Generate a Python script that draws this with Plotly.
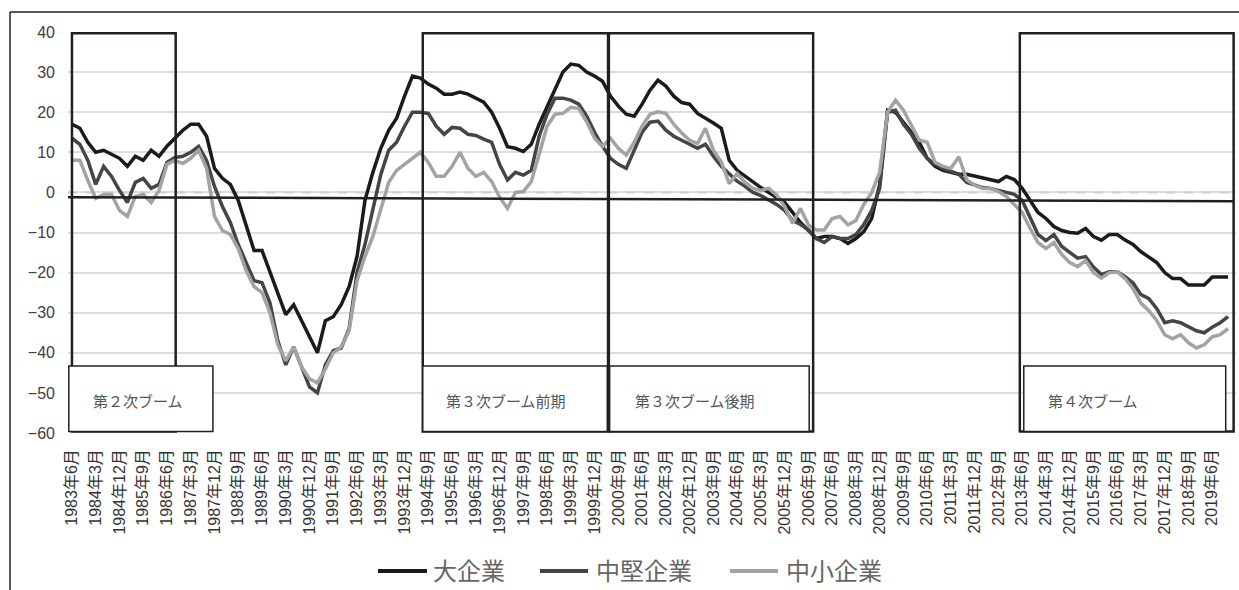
import plotly.graph_objects as go

# quarterly categories 1983年6月 .. 2019年12月
months = [3, 6, 9, 12]
quarters = []
y, q = 1983, 1
while (y, q) <= (2019, 3):
    quarters.append(f"{y}年{months[q]}月")
    q += 1
    if q == 4:
        q = 0
        y += 1

large = [17, 16, 12.5, 10, 10.5, 9.5, 8.5, 6.5, 9, 8,
         10.5, 9, 11.5, 13.5, 15.5, 17, 17, 14, 6, 3.5,
         2, -2, -8, -14.5, -14.5, -20, -25.5, -30.5, -28, -32,
         -36, -40, -32, -31, -28, -23.5, -16, -2, 5, 11,
         15.5, 18.5, 24, 29, 28.5, 27, 26, 24.5, 24.5, 25,
         24.5, 23.5, 22.5, 20, 16, 11.4, 11, 10.2, 12, 17,
         21.5, 25.5, 30, 32, 31.7, 30, 29, 27.7, 24, 21.5,
         19.5, 19, 22, 25.5, 28, 26.5, 24, 22.4, 22, 19.7,
         18.6, 17.3, 16, 8, 5.5, 4, 2.5, 1.2, 0, -1.2,
         -2.5, -5, -7.5, -9.5, -11.5, -11, -11, -11.5, -12.7, -11.5,
         -9.8, -6.5, 2, 20.5, 20, 17.5, 15, 12.5, 8.5, 6.5,
         5.5, 5, 4.5, 4.5, 4, 3.5, 3, 2.7, 4, 3.2,
         1, -2, -5, -6.5, -8.5, -9.5, -10, -10.2, -9, -11,
         -11.9, -10.5, -10.5, -11.9, -13, -14.8, -16.1, -17.5, -20, -21.5,
         -21.5, -23.1, -23.1, -23.1, -21.1, -21.1, -21.1]

medium = [13.5, 12, 8, 2, 6.5, 4, 0.5, -2.5, 2.5, 3.5,
          1, 2, 7.5, 8.7, 9, 10, 11.5, 8, 1.5, -3.5,
          -7.5, -13, -17.5, -22, -22.5, -27.5, -37, -43, -38.5, -43.5,
          -48.5, -50, -43, -39.5, -38.8, -34, -20, -13, -4, 4.5,
          10.5, 12.5, 16.5, 20, 20, 19.7, 16.5, 14.5, 16.2, 16,
          14.5, 14.2, 13.3, 12.5, 7, 3.1, 5, 4.3, 5.5, 14,
          19.5, 23.5, 23.5, 23, 22, 19, 15, 11.5, 8.5, 7,
          6, 10.5, 15, 17.5, 17.8, 15.5, 14, 13, 12, 11,
          12, 9, 6.5, 4.5, 2.8, 1.5, 0, -0.8, -1.8, -3,
          -4.5, -7, -8, -9.3, -11.5, -12.5, -11, -11.5, -11.5, -10.5,
          -8, -4.5, 1, 20, 20.5, 17, 14.5, 11, 8.5, 7,
          6, 5.2, 4.5, 2.5, 1.8, 1.2, 1, 0.5, 0, -0.5,
          -2, -6.5, -10.5, -12, -10.5, -13.5, -15, -16.4, -16, -18.6,
          -20.5, -19.8, -19.8, -21, -22.6, -25.5, -26.5, -29, -32.5, -32,
          -32.5, -33.6, -34.5, -35, -33.6, -32.5, -31]

small = [8, 8, 3, -1.5, -0.5, -0.5, -4.5, -6, -1, -0.5,
         -2.5, 0.5, 7, 8, 7.2, 8.5, 10.5, 6, -6, -9.5,
         -10.5, -14, -19.5, -23.5, -25, -30, -38, -42, -38.5, -43.5,
         -46.5, -47.5, -44, -40, -38.5, -34.5, -22, -16, -11, -4,
         2.5, 5.5, 7, 8.5, 10, 7.5, 4, 4, 6.5, 10,
         6, 4, 5, 2.7, -1.2, -4, 0, 0.2, 2.7, 9.5,
         16.5, 19.5, 19.7, 21.2, 20.9, 17.6, 13.5, 11.4, 13.5, 11,
         9.3, 12.5, 16.5, 19.5, 20.1, 19.7, 17, 14.8, 13, 12.2,
         16, 10.5, 7.6, 2.2, 4.7, 2.5, 1, 0.5, 1, -0.7,
         -3.5, -7.7, -4, -8.1, -9.4, -9.4, -6.5, -6, -8.1, -7,
         -3, 0, 5, 20, 23, 20.5, 16.8, 13, 12.5, 7.5,
         6.5, 6, 8.9, 3.1, 1.8, 1, 1, 0.2, -1, -3,
         -5, -9, -12.5, -14, -12.5, -15.5, -17.5, -18.5, -17, -20,
         -21.4, -20, -19.8, -21.5, -24, -27.6, -29.5, -32, -35.5, -36.5,
         -35.5, -37.5, -38.8, -38, -36, -35.5, -34]

series_names = ["大企業", "中堅企業", "中小企業"]
series_colors = ["#1e1a1b", "#454545", "#a3a3a3"]

tick_labels = quarters[::3]
y_ticks = [40, 30, 20, 10, 0, -10, -20, -30, -40, -50, -60]

# boom periods: (label, box x0, box x1, label box x0, label box x1, text x)
booms = [
    ("第２次ブーム", 0.0, 13.1, -0.4, 17.8, 8.4),
    ("第３次ブーム前期", 44.3, 67.7, 44.3, 67.6, 54.8),
    ("第３次ブーム後期", 67.8, 93.6, 67.9, 93.1, 78.7),
    ("第４次ブーム", 119.7, 146.7, 120.2, 145.7, 128.9),
]

# page geometry (pixels)
W, H = 1239, 590
ML, MR, MT, MB = 68, 3, 32, 157
PW, PH = W - ML - MR, H - MT - MB


def px(xp):
    return (xp - ML) / PW


def py(yp):
    return (H - MB - yp) / PH


fig = go.Figure()
for name, vals, col in zip(series_names, [large, medium, small], series_colors):
    fig.add_trace(go.Scatter(x=quarters, y=vals, mode="lines", name=name,
                             line=dict(color=col, width=3.5), showlegend=False))

LINE = "#231f20"
shapes = []
shapes.append(dict(type="line", xref="x", yref="y", x0=-0.5, x1=147, y0=0, y1=0,
                   line=dict(color="#cfcfcf", width=2, dash="dash"), layer="between"))
shapes.append(dict(type="line", xref="x", yref="y", x0=-0.5, x1=146.75, y0=-1.2, y1=-2.2,
                   line=dict(color=LINE, width=2.5), layer="above"))
for lab, bx0, bx1, lx0, lx1, tx in booms:
    shapes.append(dict(type="rect", xref="x", yref="y", x0=bx0, x1=bx1, y0=-59.6, y1=39.7,
                       line=dict(color=LINE, width=2.5), fillcolor="rgba(0,0,0,0)", layer="above"))
    shapes.append(dict(type="rect", xref="x", yref="y", x0=lx0, x1=lx1, y0=-59.6, y1=-43.3,
                       line=dict(color=LINE, width=1.5), fillcolor="white", layer="above"))
# outer frame (top and left)
shapes.append(dict(type="line", xref="paper", yref="paper", x0=px(10), x1=px(W), y0=py(12), y1=py(12),
                   line=dict(color=LINE, width=1.5)))
shapes.append(dict(type="line", xref="paper", yref="paper", x0=px(10), x1=px(10), y0=py(12), y1=py(H),
                   line=dict(color=LINE, width=1.5)))

annotations = []
for lab, bx0, bx1, lx0, lx1, tx in booms:
    annotations.append(dict(x=tx, y=-51.8, xref="x", yref="y", text=lab, showarrow=False,
                            font=dict(family="Noto Sans CJK JP", size=15, color="#555555")))

# manual legend
legend_pos = [(378, 427, 431), (540, 588, 594), (730, 778, 784)]
for name, col, (lx0, lx1, tx) in zip(series_names, series_colors, legend_pos):
    shapes.append(dict(type="line", xref="paper", yref="paper", x0=px(lx0), x1=px(lx1),
                       y0=py(571), y1=py(571), line=dict(color=col, width=4)))
    annotations.append(dict(x=px(tx), y=py(569), xref="paper", yref="paper", text=name,
                            showarrow=False, xanchor="left", yanchor="middle",
                            font=dict(family="Noto Sans CJK JP", size=24, color="#666666")))

fig.update_layout(
    width=W, height=H,
    margin=dict(l=ML, r=MR, t=MT, b=MB, autoexpand=False),
    paper_bgcolor="white", plot_bgcolor="white",
    shapes=shapes, annotations=annotations,
    showlegend=False,
    xaxis=dict(type="category", range=[-0.5, 147], tickmode="array", automargin=False,
               tickvals=tick_labels, ticktext=tick_labels, tickangle=-90,
               showgrid=False, showline=False, zeroline=False, ticks="",
               ticklabelstandoff=12,
               tickfont=dict(family="Liberation Sans, Noto Sans CJK JP", size=16, color="#333333")),
    yaxis=dict(range=[-60, 40], tickmode="array", tickvals=y_ticks, automargin=False,
               ticktext=[str(v) if v >= 0 else "\u2212" + str(-v) for v in y_ticks],
               showgrid=True, gridcolor="#dddddd", gridwidth=1.5,
               zeroline=False, showline=False, ticks="", ticklabelstandoff=12,
               tickfont=dict(family="Liberation Sans", size=16, color="#404040")),
)

fig.write_html("out.html", config={"displayModeBar": False},
               post_script="document.body.style.margin='0';document.body.style.overflow='hidden';")
